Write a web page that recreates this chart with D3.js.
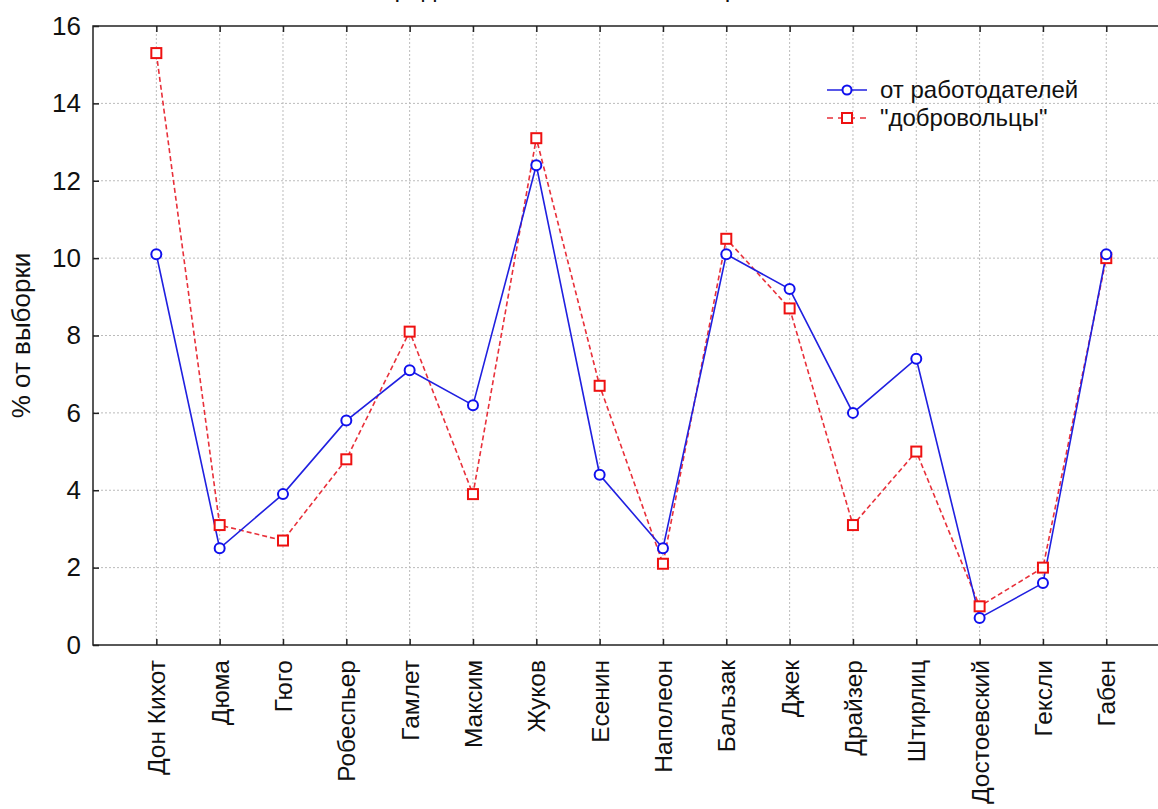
<!DOCTYPE html>
<html>
<head>
<meta charset="utf-8">
<script src="https://cdn.jsdelivr.net/npm/d3@7"></script>
<style>
  body { margin: 0; background: #fff; }
  text { font-family: "Liberation Sans", Arial, sans-serif; fill: #111; }
</style>
</head>
<body>
<div id="chart"></div>
<script>
// data
const names = ['Дон Кихот', 'Дюма', 'Гюго', 'Робеспьер', 'Гамлет', 'Максим', 'Жуков', 'Есенин',
    'Наполеон', 'Бальзак', 'Джек', 'Драйзер', 'Штирлиц', 'Достоевский', 'Гексли', 'Габен'];
const employers = [10.1, 2.5, 3.9, 5.8, 7.1, 6.2, 12.4, 4.4, 2.5, 10.1, 9.2, 6.0, 7.4, 0.7, 1.6, 10.1];
const volunteers = [15.3, 3.1, 2.7, 4.8, 8.1, 3.9, 13.1, 6.7, 2.1, 10.5, 8.7, 3.1, 5.0, 1.0, 2.0, 10.0];
const yTicks = [0, 2, 4, 6, 8, 10, 12, 14, 16];
const seriesNames = ['от работодателей', '"добровольцы"'];

const width = 1158, height = 809;
const margin = {left: 93, top: 26, bottom: 164};
const step = 63.33;
const plotRight = margin.left + step * (names.length + 1);

let svg = d3.select('#chart').append('svg')
    .attr('width', width)
    .attr('height', height);

let x = d3.scalePoint()
    .domain(names)
    .range([margin.left + step, margin.left + step * names.length]);
let y = d3.scaleLinear()
    .domain([0, 16])
    .range([height - margin.bottom, margin.top]);

// title (cut off at the top of the picture, as in the source)
svg.append('text')
    .attr('x', 560)
    .attr('y', -3)
    .attr('text-anchor', 'middle')
    .style('font-size', '25px')
    .text('Распределение типажей по выборкам');

// grid
svg.append('g').selectAll('line.gx')
    .data(names).enter().append('line')
    .attr('x1', d => x(d)).attr('x2', d => x(d))
    .attr('y1', y(16)).attr('y2', y(0))
    .attr('stroke', '#bbb').attr('stroke-width', 1).attr('stroke-dasharray', '2,2');
svg.append('g').selectAll('line.gy')
    .data(yTicks.slice(1, -1)).enter().append('line')
    .attr('x1', margin.left).attr('x2', plotRight)
    .attr('y1', d => y(d)).attr('y2', d => y(d))
    .attr('stroke', '#bbb').attr('stroke-width', 1).attr('stroke-dasharray', '2,2');

// frame
svg.append('rect')
    .attr('x', margin.left).attr('y', y(16))
    .attr('width', plotRight - margin.left).attr('height', y(0) - y(16))
    .attr('fill', 'none').attr('stroke', '#222').attr('stroke-width', 1.5);

// axes with inward ticks
let yAxis = svg.append('g')
    .attr('transform', 'translate(' + margin.left + ',0)')
    .call(d3.axisLeft(y).tickValues(yTicks).tickSize(-6).tickPadding(12));
yAxis.select('.domain').remove();
yAxis.selectAll('text').style('font-size', '26px').attr('fill', '#111');
yAxis.selectAll('line').attr('stroke', '#222').attr('stroke-width', 1.5);

let xAxis = svg.append('g')
    .attr('transform', 'translate(0,' + y(0) + ')')
    .call(d3.axisBottom(x).tickSize(-6).tickPadding(0));
xAxis.select('.domain').remove();
xAxis.selectAll('line').attr('stroke', '#222').attr('stroke-width', 1.5);
xAxis.selectAll('text')
    .style('font-size', '24.5px')
    .attr('fill', '#111')
    .attr('text-anchor', 'end')
    .attr('dy', '0.35em')
    .attr('transform', 'translate(0,15) rotate(-90)')
    .attr('x', 0).attr('y', 0);

let topAxis = svg.append('g')
    .attr('transform', 'translate(0,' + y(16) + ')')
    .call(d3.axisTop(x).tickSize(-6).tickFormat(''));
topAxis.select('.domain').remove();
topAxis.selectAll('line').attr('stroke', '#222').attr('stroke-width', 1.5);

// y label
svg.append('text')
    .attr('transform', 'translate(30,' + ((y(0) + y(16)) / 2) + ') rotate(-90)')
    .attr('text-anchor', 'middle')
    .style('font-size', '26px')
    .text('% от выборки');

// lines
let line = d3.line().x((d, i) => x(names[i])).y(d => y(d));
svg.append('path')
    .datum(volunteers)
    .attr('d', line)
    .attr('fill', 'none').attr('stroke', '#e8303a').attr('stroke-width', 1.6)
    .attr('stroke-dasharray', '5,3');
svg.append('path')
    .datum(employers)
    .attr('d', line)
    .attr('fill', 'none').attr('stroke', '#2020e0').attr('stroke-width', 1.6);

svg.append('g').selectAll('rect')
    .data(volunteers).enter().append('rect')
    .attr('x', (d, i) => x(names[i]) - 5).attr('y', d => y(d) - 5)
    .attr('width', 10).attr('height', 10)
    .attr('fill', '#fff').attr('stroke', '#ee1111').attr('stroke-width', 2);
svg.append('g').selectAll('circle')
    .data(employers).enter().append('circle')
    .attr('cx', (d, i) => x(names[i])).attr('cy', d => y(d))
    .attr('r', 5)
    .attr('fill', '#fff').attr('stroke', '#1010ee').attr('stroke-width', 2);

// legend
const rowGap = 28;
let legend = svg.append('g').attr('transform', 'translate(827,90)');
legend.append('line').attr('x1', 0).attr('x2', 40).attr('y1', 0).attr('y2', 0)
    .attr('stroke', '#2020e0').attr('stroke-width', 1.6);
legend.append('circle').attr('cx', 20).attr('cy', 0).attr('r', 4.5)
    .attr('fill', '#fff').attr('stroke', '#1010ee').attr('stroke-width', 2);
legend.append('line').attr('x1', 0).attr('x2', 40).attr('y1', rowGap).attr('y2', rowGap)
    .attr('stroke', '#e8303a').attr('stroke-width', 1.6).attr('stroke-dasharray', '6,5');
legend.append('rect').attr('x', 15).attr('y', rowGap - 5).attr('width', 10).attr('height', 10)
    .attr('fill', '#fff').attr('stroke', '#ee1111').attr('stroke-width', 2);
legend.selectAll('text.lg')
    .data(seriesNames).enter().append('text')
    .attr('x', 53).attr('y', (d, i) => i * rowGap)
    .attr('dy', '0.35em')
    .style('font-size', '24px')
    .text(d => d);
</script>
</body>
</html>
